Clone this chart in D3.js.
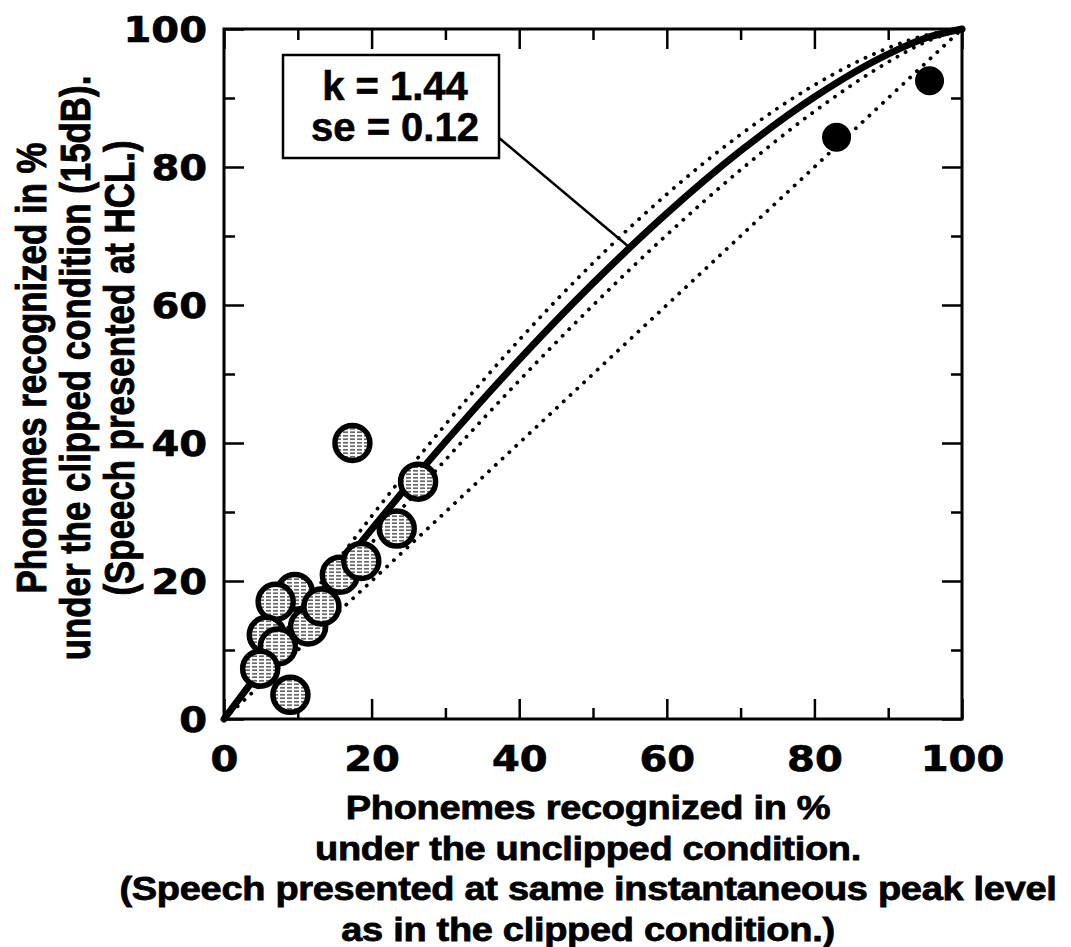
<!DOCTYPE html>
<html><head><meta charset="utf-8">
<script src="https://cdn.jsdelivr.net/npm/d3@7"></script>
<style>body{margin:0;background:#fff}</style>
</head><body>
<svg id="c" width="1071" height="947"></svg>
<script>
// ---- data ----
const xTicks = [0, 20, 40, 60, 80, 100];
const yTicks = [0, 20, 40, 60, 80, 100];
const minorTicks = [10, 30, 50, 70, 90];
// open (hatched) circles, in draw order
const openX = [9.6, 7.0, 11.4, 13.2, 5.8, 7.3, 4.9, 9.0, 15.7, 18.6, 23.4, 26.3, 17.4];
const openY = [18.4, 17.0, 13.4, 16.3, 12.2, 10.5, 7.3, 3.5, 20.9, 22.9, 27.6, 34.4, 40.0];
// filled circles
const filledX = [83.0, 95.6];
const filledY = [84.3, 92.5];
// fitted curve (k = 1.44) and the two dotted bounds, plus diagonal
const curveX = [0, 5, 10, 20, 30, 40, 50, 60, 70, 80, 90, 95, 100];
const fitY   = [0, 7.12, 14.08, 27.48, 40.17, 52.08, 63.14, 73.27, 82.34, 90.15, 96.37, 98.66, 100];
const upperY = [0, 7.69, 15.16, 29.39, 42.67, 54.93, 66.08, 76.06, 84.71, 91.88, 97.25, 99.07, 100];
const lowerY = [0, 6.55, 12.98, 25.51, 37.55, 49.05, 59.95, 70.17, 79.59, 88.05, 95.21, 98.08, 100];
const diagX = [0, 100];
const diagY = [0, 100];
const boxLines = ["k = 1.44", "se = 0.12"];
const leaderTarget = [55, 68.3];
const xTitle = ["Phonemes recognized in %", "under the unclipped condition.",
  "(Speech presented at same instantaneous peak level", "as in the clipped condition.)"];
const yTitle = ["Phonemes recognized in %", "under the clipped condition (15dB).",
  "(Speech presented at HCL.)"];

// ---- layout ----
const svg = d3.select("#c");
const L = 224, R = 962, T = 29, B = 719;
const x = d3.scaleLinear().domain([0, 100]).range([L, R]);
const y = d3.scaleLinear().domain([0, 100]).range([B, T]);
const titleFont = "'Liberation Sans', Arial, Helvetica, sans-serif";
const tickFont = "'DejaVu Sans', Verdana, sans-serif";

const defs = svg.append("defs");
const pat = defs.append("pattern").attr("id", "hatch")
  .attr("width", 7).attr("height", 3.5).attr("patternUnits", "userSpaceOnUse");
pat.append("rect").attr("width", 7).attr("height", 3.5).attr("fill", "#fff");
pat.append("line").attr("x1", 0).attr("x2", 5).attr("y1", 1.75).attr("y2", 1.75)
  .attr("stroke", "#333").attr("stroke-width", 1.3);

// curves
const line = d3.line().x(d => x(d[0])).y(d => y(d[1])).curve(d3.curveMonotoneX);
const dotted = (xs, ys) => svg.append("path")
  .attr("d", line(xs.map((v, i) => [v, ys[i]])))
  .attr("fill", "none").attr("stroke", "#000").attr("stroke-width", 3.8)
  .attr("stroke-linecap", "round").attr("stroke-dasharray", "0.1 9.2");
dotted(curveX, upperY);
dotted(curveX, lowerY);
dotted(diagX, diagY);
svg.append("path").attr("d", line(curveX.map((v, i) => [v, fitY[i]])))
  .attr("fill", "none").attr("stroke", "#000").attr("stroke-width", 7)
  .attr("stroke-linecap", "round");

// axes (ticks inward on all four sides)
function axisSet(gen, tr, vals, size, labels) {
  const g = svg.append("g").attr("transform", tr)
    .call(gen.tickValues(vals).tickSize(size).tickSizeOuter(0)
      .tickFormat(labels ? d3.format("d") : () => ""));
  g.select(".domain").remove();
  g.selectAll(".tick line").attr("stroke", "#000").attr("stroke-width", 2.5);
  return g;
}
const gb = axisSet(d3.axisBottom(x), `translate(0,${B})`, xTicks, -20, true);
axisSet(d3.axisBottom(x), `translate(0,${B})`, minorTicks, -11, false);
axisSet(d3.axisTop(x), `translate(0,${T})`, xTicks, -20, false);
axisSet(d3.axisTop(x), `translate(0,${T})`, minorTicks, -11, false);
const gl = axisSet(d3.axisLeft(y), `translate(${L},0)`, yTicks, -20, true);
axisSet(d3.axisLeft(y), `translate(${L},0)`, minorTicks, -11, false);
axisSet(d3.axisRight(y), `translate(${R},0)`, yTicks, -20, false);
axisSet(d3.axisRight(y), `translate(${R},0)`, minorTicks, -11, false);

gb.selectAll(".tick text").attr("y", 0).attr("dy", null)
  .attr("transform", "translate(0,52) scale(1,0.88)")
  .attr("font-family", tickFont).attr("font-weight", "bold").attr("font-size", 40)
  .attr("fill", "#000").attr("stroke", "#000").attr("stroke-width", 0.8);
gl.selectAll(".tick text").attr("x", -17).attr("dy", null)
  .attr("transform", "translate(0,12.8) scale(1,0.88)")
  .attr("font-family", tickFont).attr("font-weight", "bold").attr("font-size", 40)
  .attr("fill", "#000").attr("stroke", "#000").attr("stroke-width", 0.8);

// frame
svg.append("rect").attr("x", L).attr("y", T).attr("width", R - L).attr("height", B - T)
  .attr("fill", "none").attr("stroke", "#000").attr("stroke-width", 3);

// points
svg.selectAll("circle.open").data(openX.map((v, i) => [v, openY[i]])).enter()
  .append("circle").attr("class", "open")
  .attr("cx", d => x(d[0])).attr("cy", d => y(d[1])).attr("r", 17.5)
  .attr("fill", "url(#hatch)").attr("stroke", "#000").attr("stroke-width", 5.5);
svg.selectAll("circle.filled").data(filledX.map((v, i) => [v, filledY[i]])).enter()
  .append("circle").attr("class", "filled")
  .attr("cx", d => x(d[0])).attr("cy", d => y(d[1])).attr("r", 14.5).attr("fill", "#000");

// annotation box
const bx = 283, by = 55, bw = 216, bh = 103;
svg.append("line").attr("x1", bx + bw - 1).attr("y1", by + bh - 21)
  .attr("x2", x(leaderTarget[0])).attr("y2", y(leaderTarget[1]))
  .attr("stroke", "#000").attr("stroke-width", 2.5);
svg.append("rect").attr("x", bx).attr("y", by).attr("width", bw).attr("height", bh)
  .attr("fill", "#fff").attr("stroke", "#000").attr("stroke-width", 2.5);
boxLines.forEach((t, i) => svg.append("text").text(t)
  .attr("x", bx + bw / 2 + 4).attr("y", by + 45 + i * 41).attr("text-anchor", "middle")
  .attr("font-family", titleFont).attr("font-weight", "bold").attr("font-size", 40)
  .attr("stroke", "#000").attr("stroke-width", 0.6));

// axis titles
xTitle.forEach((t, i) => svg.append("text").text(t)
  .attr("transform", `translate(588,${819 + i * 40.5}) scale(1,0.85)`)
  .attr("text-anchor", "middle")
  .attr("font-family", titleFont).attr("font-weight", "bold").attr("font-size", 38)
  .attr("letter-spacing", -0.3)
  .attr("stroke", "#000").attr("stroke-width", 0.9));
yTitle.forEach((t, i) => svg.append("text").text(t)
  .attr("transform", `translate(${46 + i * 44},368) scale(1,0.83) rotate(-90)`)
  .attr("text-anchor", "middle")
  .attr("font-family", titleFont).attr("font-weight", "bold").attr("font-size", 42)
  .attr("stroke", "#000").attr("stroke-width", 0.9));
</script>
</body></html>
